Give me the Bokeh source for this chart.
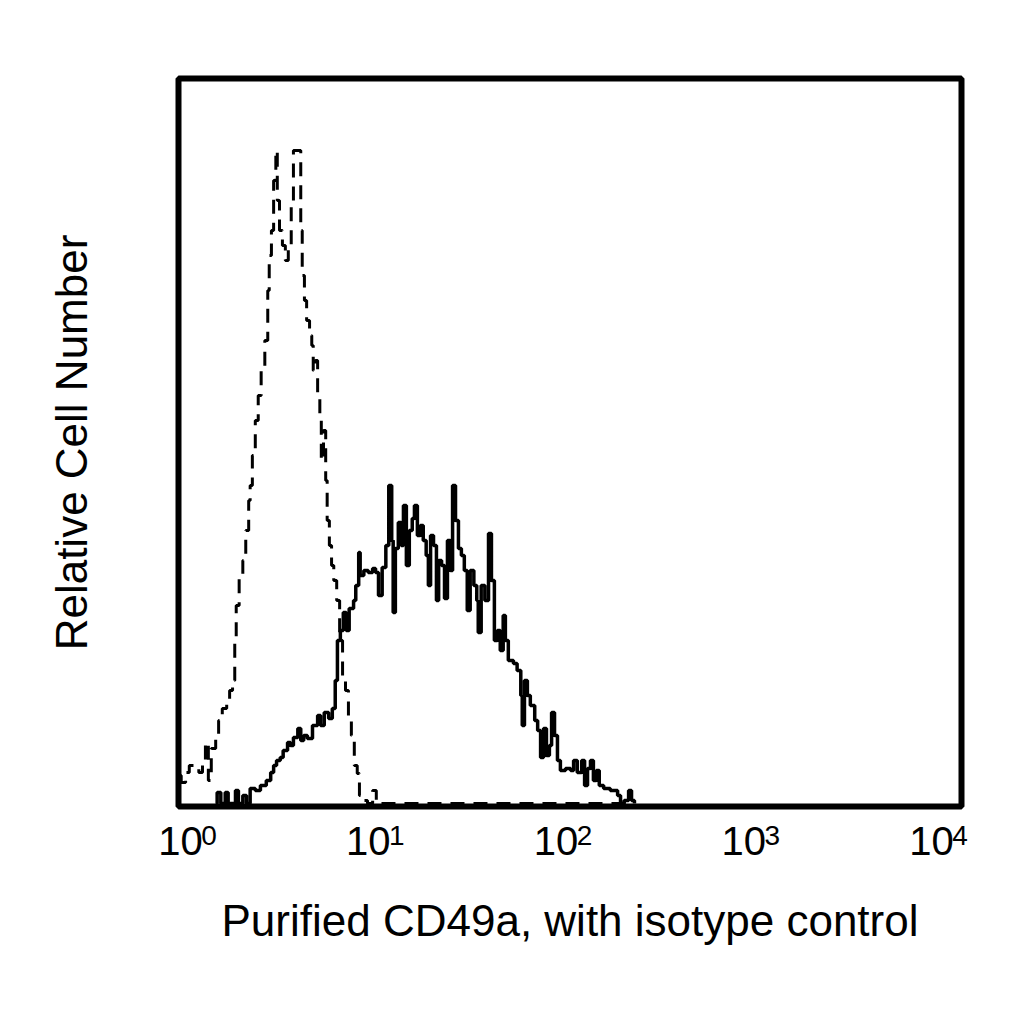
from bokeh.plotting import figure
from bokeh.models import Range1d, FixedTicker, LinearAxis
from bokeh.embed import file_html
from bokeh.resources import INLINE

# channel scale: 256 channels per decade, 0..1024 = 10^0..10^4
tick_channels = [0, 256, 512, 768, 1024]
tick_base = ["10", "10", "10", "10", "10"]
tick_exp = ["0", "1", "2", "3", "4"]

# Purified CD49a (solid)
cd49a_ch = [48, 50, 55, 61, 65, 75, 79, 85, 90, 95, 102, 109, 117, 123, 127, 131,
            136, 140, 146, 150, 154, 160, 164, 168, 173, 180, 187, 191, 196, 202,
            207, 211, 214, 218, 222, 226, 230, 236, 239, 243, 245, 250, 256, 262,
            266, 270, 275, 280, 284, 288, 290, 293, 297, 301, 304, 308, 312, 316,
            319, 323, 327, 331, 335, 338, 341, 345, 349, 352, 356, 360, 364, 368,
            371, 375, 379, 383, 387, 391, 395, 400, 404, 406, 410, 415, 420, 424,
            428, 432, 436, 440, 443, 447, 454, 459, 464, 466, 469, 473, 477, 483,
            487, 491, 495, 499, 503, 506, 510, 514, 518, 525, 532, 536, 541, 547,
            551, 555, 559, 563, 567, 571, 577, 586, 596, 600, 605, 611, 615, 619]
cd49a_count = [0, 11, 0, 11, 0, 13, 0, 8, 0, 15, 13, 18, 23, 31, 38, 43,
               46, 53, 61, 58, 66, 75, 63, 68, 65, 78, 88, 78, 91, 85,
               95, 123, 163, 173, 191, 173, 195, 203, 218, 251, 228, 233, 231, 235,
               231, 208, 236, 258, 318, 263, 191, 255, 281, 258, 298, 238, 273, 285,
               298, 268, 278, 263, 248, 218, 268, 258, 203, 243, 238, 205, 263, 233,
               318, 283, 255, 248, 233, 193, 233, 218, 203, 171, 218, 203, 270, 223,
               163, 173, 153, 188, 163, 143, 140, 133, 108, 78, 123, 108, 98, 83,
               73, 46, 75, 48, 58, 91, 68, 43, 33, 35, 33, 43, 31, 43,
               18, 35, 43, 23, 33, 18, 15, 13, 8, 0, 3, 13, 3, 0]

# isotype control (dashed)
iso_ch = [0, 1, 7, 12, 19, 25, 30, 34, 38, 42, 48, 52, 57, 63, 67, 71, 74, 76,
          80, 85, 89, 93, 95, 98, 102, 106, 110, 115, 119, 121, 124, 127, 130,
          132, 135, 139, 143, 147, 151, 154, 160, 164, 166, 169, 172, 176, 179,
          181, 184, 187, 190, 192, 195, 198, 200, 203, 206, 209, 213, 217, 221,
          225, 229, 233, 237, 241, 244, 250, 255, 262, 267, 273, 616]
iso_count = [28, 21, 31, 38, 38, 31, 43, 61, 23, 55, 68, 83, 95, 103, 113, 123, 163, 198,
             228, 243, 273, 303, 318, 348, 383, 408, 433, 463, 513, 548, 573, 623, 653,
             603, 573, 558, 543, 558, 603, 653, 653, 573, 528, 503, 483, 468, 458,
             433, 443, 408, 383, 343, 373, 323, 283, 258, 238, 223, 203, 163, 123,
             113, 83, 68, 38, 30, 8, 3, 0, 13, 3, 0, 0]

FONT = "Liberation Sans"

p = figure(frame_width=783, frame_height=728,
           x_range=Range1d(-2.7, 1064.9), y_range=Range1d(-3, 725),
           output_backend="svg", toolbar_location=None,
           min_border_left=178, min_border_top=78, min_border_right=40,
           min_border_bottom=150,
           background_fill_color="white", border_fill_color="white")

p.step(iso_ch, iso_count, mode="after", line_color="black", line_width=3,
       line_dash="14 9")
p.step(cd49a_ch, cd49a_count, mode="after", line_color="black", line_width=3.5)

p.outline_line_color = "black"
p.outline_line_width = 6
p.grid.visible = False

# exponents: the default (innermost) x axis, shifted right of each decade
exp_pos = [c + 39 for c in tick_channels]
exp_axis = p.xaxis[0]
exp_axis.ticker = FixedTicker(ticks=exp_pos)
exp_axis.major_label_overrides = dict(zip(exp_pos, tick_exp))
exp_axis.major_label_text_font_size = "28px"
exp_axis.major_label_standoff = 19

# "10" bases plus the axis title on a second axis below it
base_axis = LinearAxis(ticker=FixedTicker(ticks=tick_channels),
                       major_label_overrides=dict(zip(tick_channels, tick_base)),
                       axis_label="Purified CD49a, with isotype control")
p.add_layout(base_axis, "below")
base_axis.major_label_text_font_size = "40px"
base_axis.major_label_standoff = -21
base_axis.axis_label_standoff = 38

p.yaxis.ticker = FixedTicker(ticks=[])
p.yaxis.axis_label = "Relative Cell Number"
p.yaxis.axis_label_standoff = 83

for ax in (exp_axis, base_axis, p.yaxis[0]):
    ax.axis_line_color = None
    ax.major_tick_line_color = None
    ax.minor_tick_line_color = None
    ax.major_tick_out = 0
    ax.major_tick_in = 0
    ax.minor_tick_out = 0
    ax.minor_tick_in = 0
    ax.axis_label_text_font = FONT
    ax.axis_label_text_font_size = "44px"
    ax.axis_label_text_font_style = "normal"
    ax.axis_label_text_color = "black"
    ax.major_label_text_font = FONT
    ax.major_label_text_color = "black"

open("out.html", "w").write(file_html(p, INLINE))
